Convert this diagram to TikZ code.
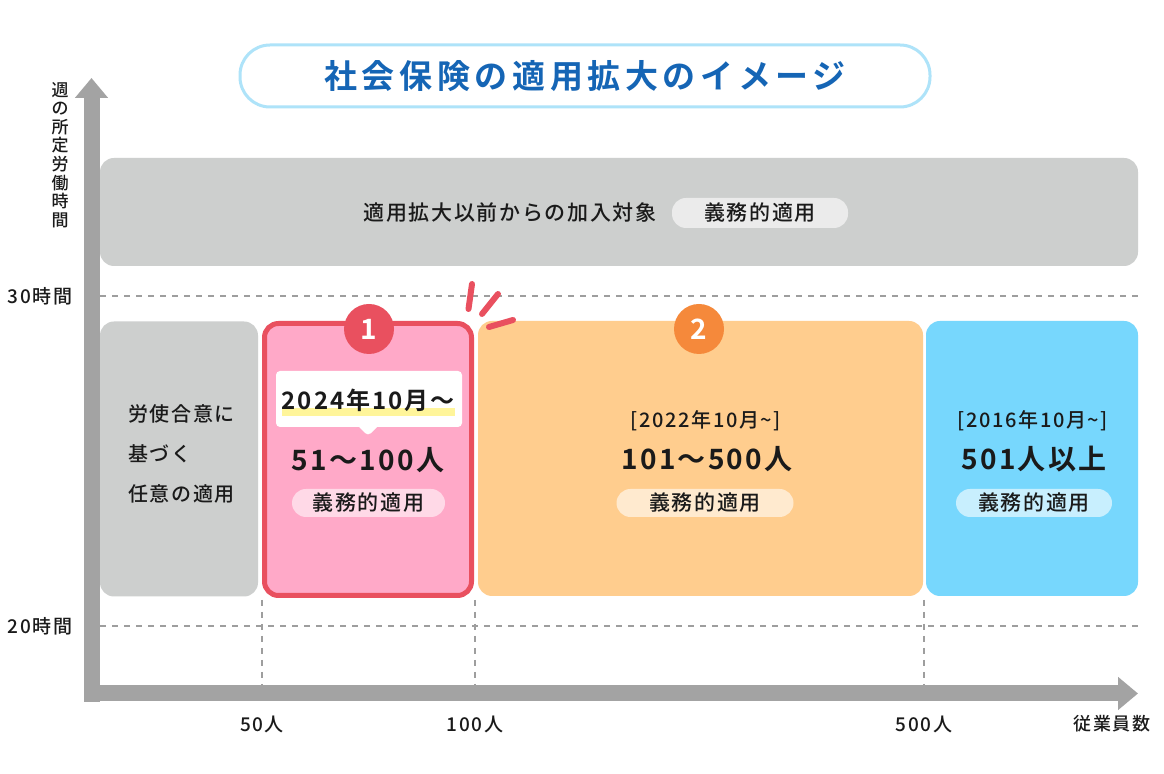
\documentclass[tikz,border=0pt]{standalone}
\usepackage{fontspec}
\setmainfont{Noto Sans CJK JP}[UprightFont=* Medium,BoldFont=* Bold,LetterSpace=8]
\newfontfamily\titlefont{Noto Sans CJK JP}[BoldFont=* Bold,LetterSpace=14]
\usetikzlibrary{arrows,arrows.meta,calc,backgrounds,shapes.callouts}
\definecolor{ink}{HTML}{1A1A1A}
\definecolor{boxgray}{HTML}{CDCFCE}
\definecolor{pillgray}{HTML}{EBEBEB}
\definecolor{axisgray}{HTML}{A3A3A3}
\definecolor{gridgray}{HTML}{9E9E9E}
\definecolor{titleblue}{HTML}{1565B5}
\definecolor{titleline}{HTML}{AEE3F9}
\definecolor{pinkfill}{HTML}{FFA9C8}
\definecolor{pinkline}{HTML}{E9505F}
\definecolor{pinkpill}{HTML}{FFD9E7}
\definecolor{orangefill}{HTML}{FFCD8E}
\definecolor{orangedot}{HTML}{F5893B}
\definecolor{orangepill}{HTML}{FFEACF}
\definecolor{bluefill}{HTML}{77D7FD}
\definecolor{bluepill}{HTML}{C8EFFE}
\definecolor{marker}{HTML}{FFF59A}
\tikzstyle{area} = [rounded corners=7pt,inner sep=0pt,minimum height=137.5pt]
\tikzstyle{pill} = [rounded corners=7pt,inner sep=0pt,minimum height=14pt,text=ink,font=\fontsize{10.5}{12}\selectfont]
\tikzstyle{badge} = [circle,inner sep=0pt,minimum size=25pt,text=white,font=\fontsize{14}{16}\selectfont\bfseries]
\tikzstyle{bignum} = [inner sep=0pt,text=ink,font=\fontsize{14}{16}\selectfont\bfseries]
\tikzstyle{since} = [inner sep=0pt,text=ink,font=\fontsize{10}{12}\selectfont]
\tikzstyle{tick} = [inner sep=0pt,text=ink,font=\fontsize{9.5}{11}\selectfont]
\tikzstyle{grid} = [draw=gridgray,line width=0.6pt,dash pattern=on 3pt off 3pt]
\tikzstyle{axis} = [line width=8pt,draw=axisgray,-{Triangle[length=10pt,width=16pt]}]
\tikzstyle{spark} = [draw=pinkline,line width=3pt,line cap=round]

\begin{document}
\begin{tikzpicture}[x=0.5pt,y=-0.5pt]
  \useasboundingbox[fill=white] (0,0) rectangle (1164,774);
  % Title
  \node[draw=titleline,line width=1.5pt,fill=white,rounded corners=15pt,minimum width=345pt,minimum height=31pt,
        text=titleblue,font=\titlefont\fontsize{16.5}{18}\selectfont\bfseries] (title) at (585,76) {社会保険の適用拡大のイメージ};
  % Grid lines and ticks
  \foreach \y/\t in {296/30,626/20} {
    \draw[grid] (100,\y) -- (1140,\y);
    \node[tick] (h\t) at (40,\y) {\t{}時間};
  }
  \foreach \x/\n in {262/50,475/100,924/500} {
    \draw[grid] (\x,600) -- (\x,686);
    \node[tick] (n\n) at (\x,724) {\n{}人};
  }
  % Axes
  \coordinate (yfoot) at (91.5,702);
  \coordinate (ytip) at (91.5,78);
  \coordinate (xfoot) at (84,693.5);
  \coordinate (xtip) at (1138,693.5);
  \draw[axis] (yfoot) -- (ytip);
  \draw[axis] (xfoot) -- (xtip);
  \node[inner sep=0pt,align=center,text=ink,font=\fontsize{8.5}{9.3}\selectfont] (yname) at (60,155)
    {週\\の\\所\\定\\労\\働\\時\\間};
  \node[tick,font=\fontsize{9}{11}\selectfont] (staff) at (1112,724) {従業員数};
  % Before the extension
  \node[area,fill=boxgray,minimum width=519pt,minimum height=54pt] (before) at (619,212) {};
  \node[inner sep=0pt,text=ink,font=\fontsize{10.5}{12}\selectfont] (beforetxt) at (510,213) {適用拡大以前からの加入対象};
  \node[pill,fill=pillgray,minimum width=88pt,minimum height=15pt] (beforepill) at (760,213) {義務的適用};
  % Voluntary
  \node[area,fill=boxgray,minimum width=79pt] (optional) at (179,459) {};
  \node[anchor=west,inner sep=0pt,align=left,text=ink,font=\fontsize{10}{20}\selectfont] (optionaltxt) at (128,454)
    {労使合意に\\基づく\\任意の適用};
  % Tiers
  \node[area,fill=pinkfill,draw=pinkline,line width=2.5pt,minimum width=103.5pt,minimum height=136pt] (tier1) at (368,459.5) {};
  \node[area,fill=orangefill,minimum width=222.5pt] (tier2) at (700.5,458.5) {};
  \node[area,fill=bluefill,minimum width=106pt] (tier3) at (1032,458.5) {};
  \node[badge,fill=pinkline] (badge1) at (369,329) {1};
  \node[badge,fill=orangedot] (badge2) at (699,329) {2};
  \draw[spark] (472,284) -- (468.5,309);
  \draw[spark] (498,294) -- (482,314);
  \draw[spark] (513,320) -- (489,327);
  % Tier 1
  \node[rectangle callout,fill=white,rounded corners=2pt,minimum width=93pt,minimum height=28pt,
        callout absolute pointer={(368,436)},callout pointer width=9pt] (bubble) at (369,399) {};
  \fill[marker] (282,408) rectangle (455,416);
  \node[inner sep=0pt,text=ink,font=\fontsize{12}{14}\selectfont\bfseries] (date1) at (368,400) {2024年10月～};
  \node[bignum] (size1) at (368,460) {51～100人};
  \node[pill,fill=pinkpill,minimum width=76.5pt] (pill1) at (368.5,503) {義務的適用};
  % Tier 2
  \node[since] (date2) at (706,421) {[2022年10月\textasciitilde]};
  \node[bignum] (size2) at (707,459) {101～500人};
  \node[pill,fill=orangepill,minimum width=88.5pt] (pill2) at (705,503) {義務的適用};
  % Tier 3
  \node[since] (date3) at (1033,421) {[2016年10月\textasciitilde]};
  \node[bignum] (size3) at (1034,459) {501人以上};
  \node[pill,fill=bluepill,minimum width=78pt] (pill3) at (1034,503) {義務的適用};
\end{tikzpicture}
\end{document}
